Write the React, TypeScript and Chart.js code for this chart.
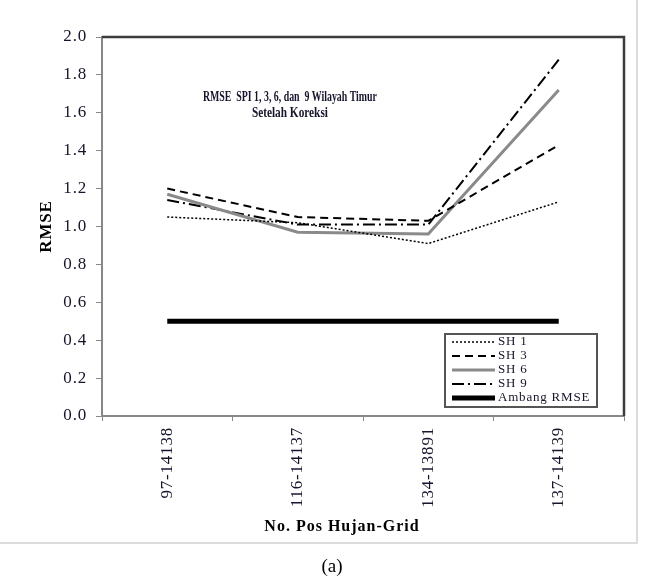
import React, { useEffect, useRef } from "react";
import { Chart, registerables } from "chart.js";

Chart.register(...registerables);

// Rain-gauge / grid pairs along the x axis
const categories = ["97-14138", "116-14137", "134-13891", "137-14139"];

// RMSE per SPI time scale after correction
const sh1 = [1.05, 1.02, 0.91, 1.13];
const sh3 = [1.2, 1.05, 1.03, 1.43];
const sh6 = [1.17, 0.97, 0.96, 1.72];
const sh9 = [1.14, 1.01, 1.01, 1.88];
const ambang = [0.5, 0.5, 0.5, 0.5];

const seriesNames = ["SH 1", "SH 3", "SH 6", "SH 9", "Ambang RMSE"];
const yMin = 0;
const yMax = 2;
const yStep = 0.2;

const titleLines = ["RMSE  SPI 1, 3, 6, dan  9 Wilayah Timur", "Setelah Koreksi"];
const xTitle = "No. Pos Hujan-Grid";
const yTitle = "RMSE";
const caption = "(a)";

const SERIF = "'Liberation Serif', 'Times New Roman', serif";
const TEXT = "#15152e";
const SPACING = "0.8px";

const W = 661;
const H = 584;

// slightly opened letter spacing for all chart text
const spacingPlugin = {
  id: "spacing",
  beforeUpdate(chart: any) {
    chart.ctx.letterSpacing = SPACING;
  },
  beforeDraw(chart: any) {
    chart.ctx.letterSpacing = SPACING;
  },
};

const decorPlugin = {
  id: "decor",
  afterDraw(chart: any) {
    const { ctx, chartArea } = chart;
    const { left, right, top, bottom } = chartArea;
    ctx.save();

    // outer frame (right and bottom edges only)
    ctx.strokeStyle = "#dcdcdc";
    ctx.lineWidth = 2;
    ctx.beginPath();
    ctx.moveTo(637, 0);
    ctx.lineTo(637, 543);
    ctx.lineTo(0, 543);
    ctx.stroke();

    // dark top and right edges of the plot box
    ctx.strokeStyle = "#3c3c3c";
    ctx.lineWidth = 2.5;
    ctx.beginPath();
    ctx.moveTo(left, top);
    ctx.lineTo(right, top);
    ctx.lineTo(right, bottom);
    ctx.stroke();

    // title inside the plot, set condensed
    ctx.letterSpacing = "0px";
    ctx.fillStyle = TEXT;
    ctx.font = `bold 14px ${SERIF}`;
    ctx.textAlign = "center";
    ctx.textBaseline = "middle";
    const tx = left + (right - left) * 0.36;
    ctx.fillText(titleLines[0], tx, 97, 174);
    ctx.fillText(titleLines[1], tx, 113, 76);

    // x axis title
    ctx.letterSpacing = "1px";
    ctx.fillStyle = "#000";
    ctx.font = `bold 16px ${SERIF}`;
    ctx.fillText(xTitle, 342, 527);

    // legend box
    ctx.letterSpacing = SPACING;
    const lx = 445;
    const ly = 334;
    const lw = 152;
    const lh = 73;
    ctx.fillStyle = "#ffffff";
    ctx.fillRect(lx, ly, lw, lh);
    ctx.strokeStyle = "#555555";
    ctx.lineWidth = 2;
    ctx.strokeRect(lx, ly, lw, lh);
    ctx.font = `13px ${SERIF}`;
    ctx.textAlign = "left";
    chart.data.datasets.forEach((ds: any, i: number) => {
      const y = ly + 8 + i * 14;
      ctx.beginPath();
      ctx.strokeStyle = ds.borderColor;
      ctx.lineWidth = ds.borderWidth;
      ctx.setLineDash(ds.borderDash || []);
      ctx.moveTo(lx + 7, y);
      ctx.lineTo(lx + 50, y);
      ctx.stroke();
      ctx.setLineDash([]);
      ctx.fillStyle = TEXT;
      ctx.fillText(ds.label, lx + 53, y, lw - 56);
    });

    // caption below the chart
    ctx.letterSpacing = "0px";
    ctx.fillStyle = "#000";
    ctx.font = `19px ${SERIF}`;
    ctx.textAlign = "center";
    ctx.fillText(caption, 332, 567);
    ctx.restore();
  },
};

export default function App() {
  const ref = useRef<HTMLCanvasElement | null>(null);

  useEffect(() => {
    if (!ref.current) return;
    const chart = new Chart(ref.current, {
      type: "line",
      data: {
        labels: categories,
        datasets: [
          { label: seriesNames[0], data: sh1, borderColor: "#000", borderWidth: 1.5, borderDash: [2, 2] },
          { label: seriesNames[1], data: sh3, borderColor: "#000", borderWidth: 2, borderDash: [8, 5] },
          { label: seriesNames[2], data: sh6, borderColor: "#8a8a8a", borderWidth: 3 },
          { label: seriesNames[3], data: sh9, borderColor: "#000", borderWidth: 2, borderDash: [12, 4, 2, 4] },
          { label: seriesNames[4], data: ambang, borderColor: "#000", borderWidth: 5 },
        ].map((d) => ({ ...d, pointRadius: 0, fill: false, tension: 0 })),
      },
      options: {
        animation: false,
        responsive: false,
        devicePixelRatio: 1,
        layout: { padding: { left: 0, top: 37, right: 37, bottom: 43 } },
        plugins: { legend: { display: false }, tooltip: { enabled: false } },
        scales: {
          x: {
            type: "category",
            offset: true,
            grid: { offset: true, drawOnChartArea: false, tickLength: 5, color: "#888", lineWidth: 1 },
            border: { color: "#888", width: 2 },
            ticks: { minRotation: 90, maxRotation: 90, padding: 6, color: TEXT, font: { family: SERIF, size: 17 } },
            title: { display: false, text: xTitle },
            afterFit: (s: any) => {
              s.height = 125;
            },
          },
          y: {
            min: yMin,
            max: yMax,
            grid: { drawOnChartArea: false, tickLength: 6, color: "#888", lineWidth: 1 },
            border: { color: "#888", width: 2 },
            ticks: {
              stepSize: yStep,
              padding: 9,
              color: TEXT,
              font: { family: SERIF, size: 17 },
              callback: (v: any) => Number(v).toFixed(1),
            },
            title: {
              display: true,
              text: yTitle,
              color: "#000",
              font: { family: SERIF, size: 17, weight: "bold" },
              padding: { top: 36, bottom: 0 },
            },
            afterFit: (s: any) => {
              s.width = 102;
            },
          },
        },
      },
      plugins: [spacingPlugin, decorPlugin],
    });
    return () => chart.destroy();
  }, []);

  return (
    <div style={{ position: "fixed", left: 0, top: 0, width: W, height: H, background: "#fff" }}>
      <canvas ref={ref} width={W} height={H} style={{ display: "block" }} />
    </div>
  );
}
